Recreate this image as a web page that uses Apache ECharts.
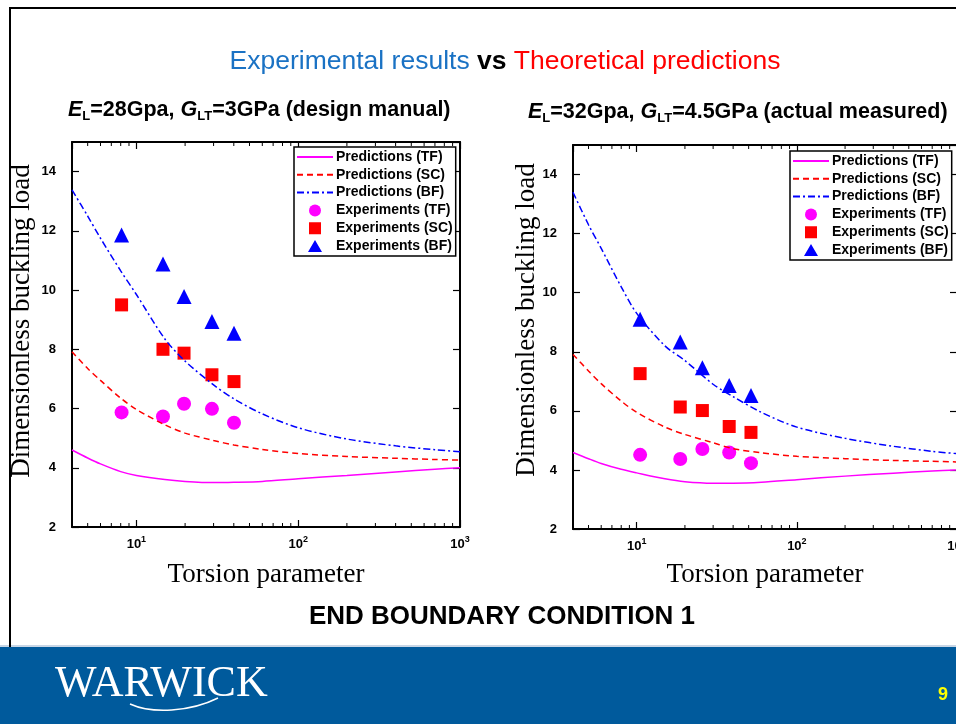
<!DOCTYPE HTML>
<html>
	<head>
		<meta http-equiv="Content-type" content="text/html; charset=UTF-8" />
		<script type="text/javascript" src="https://cdn.jsdelivr.net/npm/echarts@6/dist/echarts.min.js"></script>
		<style>
			body { margin: 0; background: #fff; }
		</style>
	</head>
	<body>
		<div id="div_1" style="width: 956px;height:724px;"></div>
	</body>
</html>

<script>
	// x grid of the theoretical curves (torsion parameter)
	var xPred = [4, 5, 6, 8, 10, 15, 20, 30, 40, 60, 100, 200, 400, 700, 1000]

	// left: EL=28Gpa, GLT=3GPa
	var tfPredL = [4.60, 4.33, 4.13, 3.87, 3.74, 3.60, 3.54, 3.50, 3.51, 3.54, 3.63, 3.74, 3.86, 3.95, 4.00]
	var scPredL = [7.92, 7.35, 6.95, 6.35, 5.97, 5.45, 5.17, 4.92, 4.77, 4.62, 4.48, 4.38, 4.32, 4.28, 4.26]
	var bfPredL = [13.38, 12.50, 11.75, 10.65, 9.85, 8.35, 7.60, 6.80, 6.33, 5.82, 5.35, 4.97, 4.74, 4.61, 4.54]
	var xExpL = [8.1, 14.6, 19.7, 29.3, 40.1]
	var tfExpL = [5.87, 5.73, 6.16, 5.99, 5.52]
	var scExpL = [9.50, 8.00, 7.87, 7.14, 6.91]
	var bfExpL = [11.86, 10.88, 9.78, 8.94, 8.54]

	// right: EL=32Gpa, GLT=4.5GPa
	var tfPredR = [4.59, 4.38, 4.22, 4.02, 3.90, 3.70, 3.60, 3.55, 3.55, 3.58, 3.67, 3.79, 3.89, 3.96, 4.00]
	var scPredR = [7.91, 7.35, 6.92, 6.33, 5.95, 5.45, 5.20, 4.92, 4.72, 4.58, 4.46, 4.38, 4.32, 4.29, 4.27]
	var bfPredR = [13.40, 12.30, 11.50, 10.20, 9.30, 8.20, 7.70, 6.90, 6.48, 5.95, 5.45, 5.07, 4.80, 4.63, 4.55]
	var xExpR = [10.5, 18.7, 25.7, 37.8, 51.7]
	var tfExpR = [4.51, 4.37, 4.71, 4.59, 4.23]
	var scExpR = [7.26, 6.13, 6.01, 5.47, 5.27]
	var bfExpR = [9.10, 8.33, 7.46, 6.86, 6.52]

	// axis ranges and minor ticks of the log axis
	var xMin = 4, xMax = 1000, yMin = 2, yMax = 15
	var minorTicks = [5, 6, 7, 8, 9, 20, 30, 40, 50, 60, 70, 80, 90, 200, 300, 400, 500, 600, 700, 800, 900]

	var lineNames = ['Predictions (TF)', 'Predictions (SC)', 'Predictions (BF)']
	var dotNames = ['Experiments (TF)', 'Experiments (SC)', 'Experiments (BF)']

	function pairs(xs, ys) {
		return xs.map(function (x, i) { return [x, ys[i]] })
	}

	var labelFont = 'Arial, "Liberation Sans", sans-serif'
	var serifFont = '"Liberation Serif", "DejaVu Serif", serif'

	function xAxes(gridIndex) {
		var base = {
			type: 'log', logBase: 10, min: xMin, max: xMax, gridIndex: gridIndex,
			axisLine: { lineStyle: { color: '#000', width: 2 } },
			axisTick: { inside: true, length: 7, lineStyle: { color: '#000', width: 1.2 } },
			splitLine: { show: false }
		}
		var bottom = Object.assign({}, base, {
			position: 'bottom',
			axisLabel: {
				color: '#000', fontFamily: labelFont, fontWeight: 'bold', fontSize: 13, margin: 8,
				showMinLabel: false,
				formatter: function (v) {
					var e = Math.round(Math.log(v) / Math.LN10)
					if (Math.abs(Math.pow(10, e) - v) > 1e-6 * v) return ''
					return '10{sup|' + e + '}'
				},
				lineHeight: 18,
				rich: { sup: { fontSize: 9, fontWeight: 'bold', fontFamily: labelFont, verticalAlign: 'top', lineHeight: 10, color: '#000' } }
			}
		})
		var top = Object.assign({}, base, { position: 'top', axisLabel: { show: false } })
		return [bottom, top]
	}

	function yAxes(gridIndex) {
		var base = {
			type: 'value', min: yMin, max: yMax, interval: 2, gridIndex: gridIndex,
			axisLine: { show: true, lineStyle: { color: '#000', width: 2 } },
			axisTick: { show: true, inside: true, length: 7, lineStyle: { color: '#000', width: 1.2 } },
			splitLine: { show: false }
		}
		var left = Object.assign({}, base, {
			position: 'left',
			axisLabel: { color: '#000', fontFamily: labelFont, fontWeight: 'bold', fontSize: 13, margin: 16, showMaxLabel: false }
		})
		var right = Object.assign({}, base, { position: 'right', axisLabel: { show: false } })
		return [left, right]
	}

	function tickItem(params, api) {
		var x = api.value(0)
		var b = api.coord([x, yMin])
		var t = api.coord([x, yMax])
		return {
			type: 'group',
			children: [
				{ type: 'line', shape: { x1: b[0], y1: b[1], x2: b[0], y2: b[1] - 4 }, style: { stroke: '#000', lineWidth: 1 } },
				{ type: 'line', shape: { x1: t[0], y1: t[1], x2: t[0], y2: t[1] + 4 }, style: { stroke: '#000', lineWidth: 1 } }
			]
		}
	}

	function chartSeries(ax, tf, sc, bf, xe, tfe, sce, bfe) {
		var xi = ax * 2, yi = ax * 2
		var line = function (name, ys, color, type) {
			return {
				name: name, type: 'line', xAxisIndex: xi, yAxisIndex: yi,
				data: pairs(xPred, ys), smooth: 0.3, symbol: 'none',
				lineStyle: { color: color, width: 1.5, type: type },
				itemStyle: { color: color }
			}
		}
		var dots = function (name, ys, color, symbol, size) {
			return {
				name: name, type: 'scatter', xAxisIndex: xi, yAxisIndex: yi,
				data: pairs(xe, ys), symbol: symbol, symbolSize: size,
				itemStyle: { color: color, opacity: 1 }
			}
		}
		return [
			{
				type: 'custom', xAxisIndex: xi, yAxisIndex: yi, silent: true,
				data: minorTicks.map(function (v) { return [v, yMin] }),
				renderItem: tickItem
			},
			line(lineNames[0], tf, '#ff00ff', 'solid'),
			line(lineNames[1], sc, '#ff0000', [6, 4]),
			line(lineNames[2], bf, '#0000ff', [7, 3, 2, 3]),
			dots(dotNames[0], tfe, '#ff00ff', 'circle', 14),
			dots(dotNames[1], sce, '#ff0000', 'rect', 13),
			dots(dotNames[2], bfe, '#0000ff', 'triangle', 15)
		]
	}

	// legend icons: tiny corner specks keep the 36x12 box so the mark stays centred
	var corners = 'M0,0L0.1,0L0,0.1Z M36,12L35.9,12L36,11.9Z '
	var dotIcons = [
		'circle',
		'path://' + corners + 'M12,0L24,0L24,12L12,12Z',
		'path://' + corners + 'M11,12L25,12L18,0Z'
	]

	function legendBox(left, top) {
		var data = lineNames.map(function (n) {
			return { name: n, itemStyle: { opacity: 0 } }
		}).concat(dotNames.map(function (n, i) {
			return { name: n, icon: dotIcons[i] }
		}))
		return {
			data: data, orient: 'vertical', left: left, top: top,
			backgroundColor: '#fff', borderColor: '#000', borderWidth: 1.5, borderRadius: 0,
			padding: [3, 3, 3, 2], itemGap: 3.8, itemWidth: 36, itemHeight: 12,
			selectedMode: false,
			textStyle: { color: '#000', fontFamily: labelFont, fontWeight: 'bold', fontSize: 14, padding: [0, 0, 0, -2] }
		}
	}

	var myChart = echarts.init(document.getElementById('div_1'))
	var subRich = {
		it: { fontStyle: 'italic', fontWeight: 'bold', fontSize: 21.5, fontFamily: labelFont, color: '#000', lineHeight: 26 },
		n: { fontWeight: 'bold', fontSize: 21.5, fontFamily: labelFont, color: '#000', lineHeight: 26 },
		sub: { fontWeight: 'bold', fontSize: 13, fontFamily: labelFont, color: '#000', verticalAlign: 'bottom', lineHeight: 15 }
	}

	var option = {
		backgroundColor: '#fff',
		animation: false,
		grid: [
			{ left: 72, top: 142, width: 388, height: 385, containLabel: false, outerBoundsMode: 'none' },
			{ left: 573, top: 145, width: 384, height: 384, containLabel: false, outerBoundsMode: 'none' }
		],
		xAxis: xAxes(0).concat(xAxes(1)),
		yAxis: yAxes(0).concat(yAxes(1)),
		legend: [legendBox(294, 147), legendBox(790, 151)],
		series: chartSeries(0, tfPredL, scPredL, bfPredL, xExpL, tfExpL, scExpL, bfExpL)
			.concat(chartSeries(1, tfPredR, scPredR, bfPredR, xExpR, tfExpR, scExpR, bfExpR)),
		graphic: [
			// slide frame
			{ type: 'rect', shape: { x: 9, y: 7, width: 950, height: 2 }, style: { fill: '#000' }, z: 1 },
			{ type: 'rect', shape: { x: 9, y: 7, width: 2, height: 640 }, style: { fill: '#000' }, z: 1 },
			// footer band
			{ type: 'rect', shape: { x: 0, y: 645, width: 956, height: 2 }, style: { fill: '#c8d6e6' } },
			{ type: 'rect', shape: { x: 0, y: 647, width: 956, height: 77 }, style: { fill: '#005a9c' } },
			{
				type: 'text', left: 55, top: 662,
				style: { text: 'WARWICK', fill: '#fff', font: '44px "Liberation Serif", serif' }
			},
			{
				type: 'bezierCurve',
				shape: { x1: 130, y1: 704, cpx1: 152, cpy1: 714, cpx2: 190, cpy2: 712, x2: 218, y2: 698 },
				style: { stroke: '#fff', lineWidth: 1.5, fill: null }
			},
			{
				type: 'text', left: 938, top: 686,
				style: { text: '9', fill: '#ffff00', font: 'bold 18px Arial, "Liberation Sans", sans-serif' }
			},
			// headings
			{
				type: 'text', x: 505, y: 62,
				style: {
					text: '{b|Experimental results }{k|vs}{r| Theoretical predictions}',
					align: 'center', verticalAlign: 'middle',
					rich: {
						b: { fill: '#1a72c4', fontSize: 26.5, fontFamily: labelFont },
						k: { fill: '#000', fontSize: 26.5, fontWeight: 'bold', fontFamily: labelFont },
						r: { fill: '#ff0000', fontSize: 26.5, fontFamily: labelFont }
					}
				}
			},
			{
				type: 'text', left: 68, top: 99,
				style: { text: '{it|E}{sub|L}{n|=28Gpa, }{it|G}{sub|LT}{n|=3GPa (design manual)}', rich: subRich }
			},
			{
				type: 'text', left: 528, top: 101,
				style: { text: '{it|E}{sub|L}{n|=32Gpa, }{it|G}{sub|LT}{n|=4.5GPa (actual measured)}', rich: subRich }
			},
			{
				type: 'text', x: 502, y: 617,
				style: {
					text: 'END BOUNDARY CONDITION 1', fill: '#000', align: 'center', verticalAlign: 'middle',
					font: 'bold 26px Arial, "Liberation Sans", sans-serif'
				}
			},
			// axis titles
			{
				type: 'text', x: 22, y: 321, rotation: Math.PI / 2,
				style: { text: 'Dimensionless buckling load', fill: '#000', font: '27px ' + serifFont, align: 'center', verticalAlign: 'middle' }
			},
			{
				type: 'text', x: 527, y: 320, rotation: Math.PI / 2,
				style: { text: 'Dimensionless buckling load', fill: '#000', font: '27px ' + serifFont, align: 'center', verticalAlign: 'middle' }
			},
			{
				type: 'text', x: 266, y: 575,
				style: { text: 'Torsion parameter', fill: '#000', font: '27px ' + serifFont, align: 'center', verticalAlign: 'middle' }
			},
			{
				type: 'text', x: 765, y: 575,
				style: { text: 'Torsion parameter', fill: '#000', font: '27px ' + serifFont, align: 'center', verticalAlign: 'middle' }
			}
		]
	}
	myChart.setOption(option)
</script>
